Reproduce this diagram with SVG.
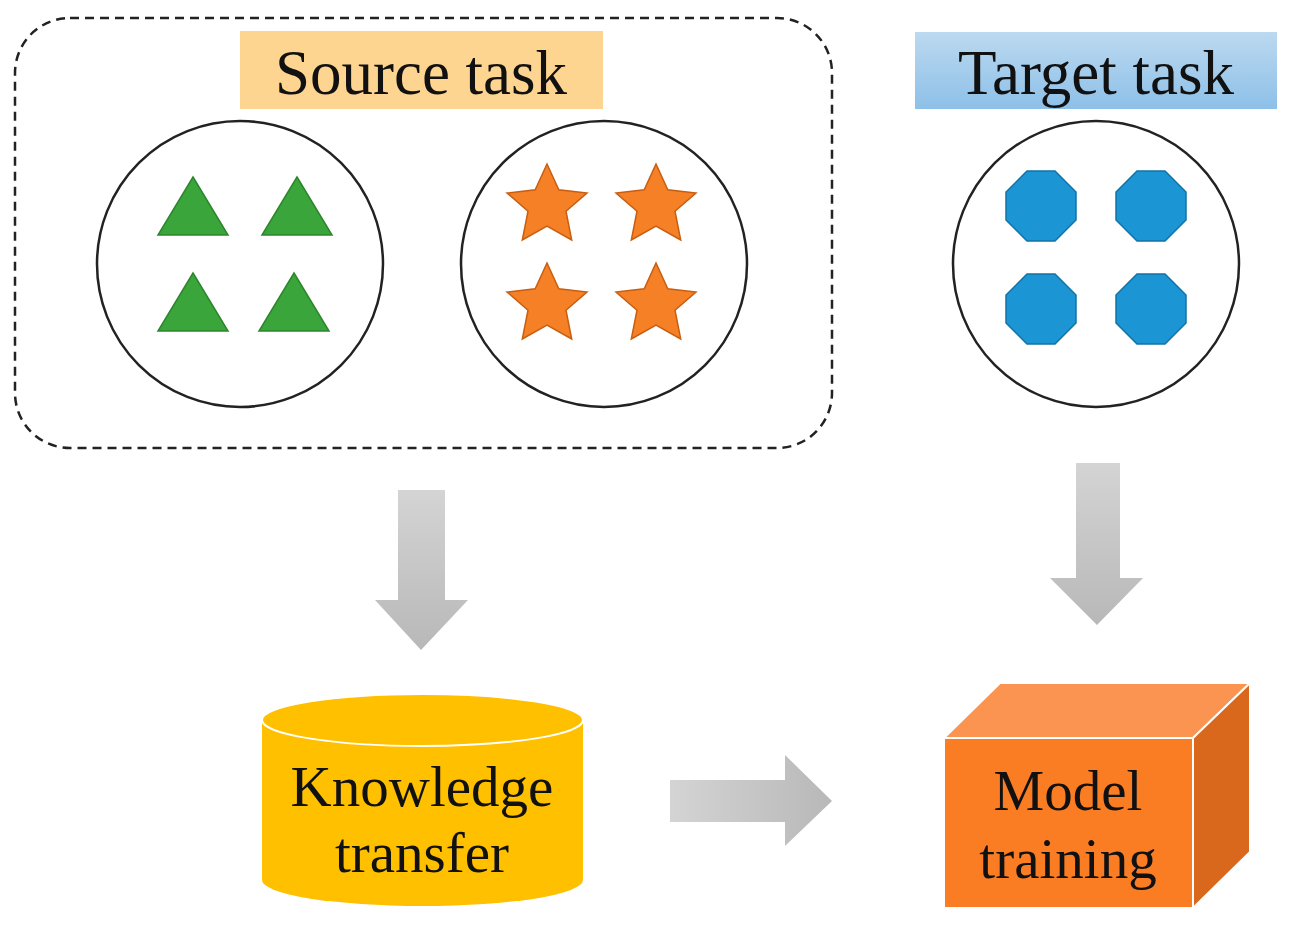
<svg xmlns="http://www.w3.org/2000/svg" width="1296" height="927" viewBox="0 0 1296 927">
<defs>
<linearGradient id="gv" x1="0" y1="0" x2="0" y2="1"><stop offset="0" stop-color="#d4d4d4"/><stop offset="1" stop-color="#b8b8b8"/></linearGradient>
<linearGradient id="gh" x1="0" y1="0" x2="1" y2="0"><stop offset="0" stop-color="#d4d4d4"/><stop offset="1" stop-color="#b8b8b8"/></linearGradient>
<linearGradient id="gb" x1="0" y1="0" x2="0" y2="1"><stop offset="0" stop-color="#bcd9f0"/><stop offset="1" stop-color="#8dc0e8"/></linearGradient>
<style>
.t{font-family:"Liberation Serif",serif;fill:#111;text-anchor:middle}
.c{fill:#fff;stroke:#222;stroke-width:2.5}
.tri{fill:#3aa53a;stroke:#2d862d;stroke-width:1.5}
.star{fill:#f58025;stroke:#c85e12;stroke-width:1.5}
.oct{fill:#1b95d3;stroke:#1273a6;stroke-width:1.5}
</style>
<polygon id="st" points="0,-42 11.8,-16.2 40,-13 19,5.2 24.7,34 0,20 -24.7,34 -19,5.2 -40,-13 -11.8,-16.2"/>
<polygon id="oc" points="-14,-35 14,-35 35,-14 35,14 14,35 -14,35 -35,14 -35,-14"/>
<polygon id="tr" points="0,-29 35,29 -35,29"/>
</defs>
<g id="source-group">
<rect x="15" y="18" width="817" height="430" rx="55" fill="none" stroke="#222" stroke-width="2.5" stroke-dasharray="9,6"/>
<rect x="240" y="31" width="363" height="78" fill="#fdd590"/>
<text class="t" x="421" y="94" font-size="63">Source task</text>
</g>
<g id="triangles">
<circle class="c" cx="240" cy="264" r="143"/>
<use href="#tr" class="tri" x="193" y="206"/>
<use href="#tr" class="tri" x="297" y="206"/>
<use href="#tr" class="tri" x="193" y="302"/>
<use href="#tr" class="tri" x="294" y="302"/>
</g>
<g id="stars">
<circle class="c" cx="604" cy="264" r="143"/>
<use href="#st" class="star" x="547" y="206"/>
<use href="#st" class="star" x="656" y="206"/>
<use href="#st" class="star" x="547" y="305"/>
<use href="#st" class="star" x="656" y="305"/>
</g>
<g id="target">
<rect x="915" y="32" width="362" height="77" fill="url(#gb)"/>
<text class="t" x="1096" y="94" font-size="63">Target task</text>
<circle class="c" cx="1096" cy="264" r="143"/>
<use href="#oc" class="oct" x="1041" y="206"/>
<use href="#oc" class="oct" x="1151" y="206"/>
<use href="#oc" class="oct" x="1041" y="309"/>
<use href="#oc" class="oct" x="1151" y="309"/>
</g>
<g id="connectors">
<polygon fill="url(#gv)" points="398,490 445,490 445,600 468,600 421,650 375,600 398,600"/>
<polygon fill="url(#gv)" points="1076,463 1120,463 1120,578 1143,578 1097,625 1050,578 1076,578"/>
<polygon fill="url(#gh)" points="670,780 785,780 785,755 832,801 785,846 785,822 670,822"/>
</g>
<g id="knowledge">
<path d="M262,720 L262,880 A160.5,26 0 0 0 583,880 L583,720 Z" fill="#ffc000"/>
<ellipse cx="422.5" cy="720" rx="160.5" ry="26" fill="#ffc000" stroke="#fff" stroke-width="2"/>
<text class="t" x="422" y="806" font-size="57">Knowledge</text>
<text class="t" x="422" y="872" font-size="57">transfer</text>
</g>
<g id="model">
<polygon points="944,738 1000,683 1250,683 1193,738" fill="#fa9450" stroke="#fff" stroke-width="2"/>
<polygon points="1193,738 1250,683 1250,852 1193,908" fill="#d9671c" stroke="#fff" stroke-width="2"/>
<rect x="944" y="738" width="249" height="170" fill="#fa7d24" stroke="#fff" stroke-width="2"/>
<text class="t" x="1068" y="810" font-size="57">Model</text>
<text class="t" x="1068" y="878" font-size="57">training</text>
</g>
</svg>
